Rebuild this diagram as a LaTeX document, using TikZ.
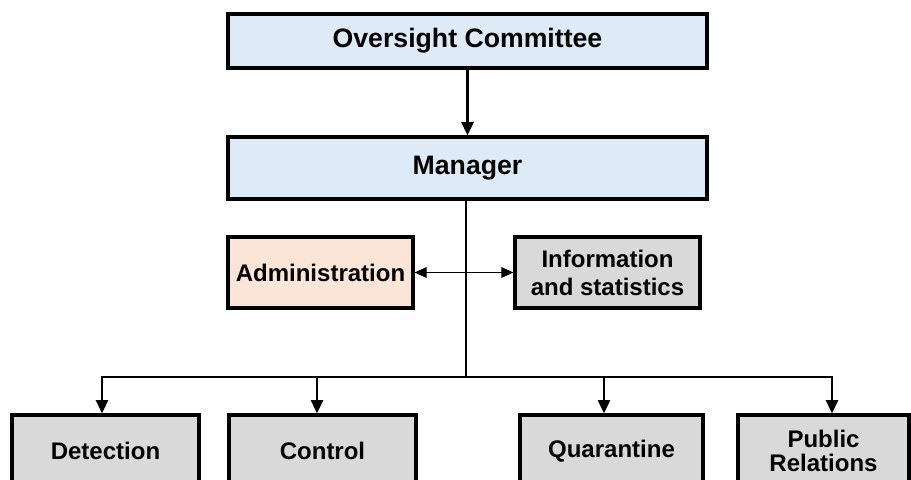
\documentclass[tikz,border=0pt]{standalone}
\usepackage{fontspec}
\setmainfont{Liberation Sans}
\usetikzlibrary{arrows.meta}
\definecolor{topblue}{HTML}{DEEBF7}
\definecolor{adminpink}{HTML}{FBE5D6}
\definecolor{unitgray}{HTML}{D9D9D9}

\begin{document}
\begin{tikzpicture}[x=0.75pt,y=-0.75pt,
  box/.style={draw, line width=2.4pt, align=center, inner sep=0pt, font=\bfseries\fontsize{18}{21}\selectfont},
  topbox/.style={box, fill=topblue, minimum width=479*0.75pt, font=\bfseries\fontsize{20}{24}\selectfont},
  unit/.style={box, fill=unitgray, minimum height=72*0.75pt, font=\bfseries\fontsize{18}{17.5}\selectfont},
  arr/.style={line width=2pt, -{Triangle[length=10pt,width=9pt]}}]
\useasboundingbox (0,0) rectangle (911,479);
\clip (0,0) rectangle (911,479);
\node [topbox, minimum height=54*0.75pt] (over) at (467.5,41) {Oversight Committee};
\node [topbox, minimum height=62*0.75pt] (mgr) at (467.5,168) {Manager};
\node [box, fill=adminpink, minimum width=185*0.75pt, minimum height=71*0.75pt] (admin) at (320.5,272.5) {Administration};
\node [box, fill=unitgray, minimum width=185*0.75pt, minimum height=71*0.75pt] (info) at (607.5,272.5) {Information\\and statistics};
\node [unit, minimum width=187*0.75pt] (det) at (105.5,451) {Detection};
\node [unit, minimum width=187*0.75pt] (ctrl) at (322.5,451) {Control};
\node [unit, minimum width=183*0.75pt] (quar) at (611.5,451) {Quarantine};
\node [unit, minimum width=171*0.75pt] (pub) at (823.5,451) {Public\\Relations};
% bus line
\coordinate (bus) at (466,377);
\coordinate (b1) at (102,377);
\coordinate (b2) at (317,377);
\coordinate (b3) at (604,377);
\coordinate (b4) at (832,377);
\draw [arr] (over.south) -- (mgr.north);
\draw [line width=2pt] (mgr.south -| bus) -- (bus);
\draw [line width=2pt, line cap=rect] (b1) -- (b4);
\draw [line width=0.8pt, {Triangle[length=9pt,width=8pt]}-{Triangle[length=9pt,width=8pt]}] (admin.east) -- (info.west);
\draw [arr] (b1) -- (b1 |- det.north);
\draw [arr] (b2) -- (b2 |- ctrl.north);
\draw [arr] (b3) -- (b3 |- quar.north);
\draw [arr] (b4) -- (b4 |- pub.north);
\end{tikzpicture}
\end{document}
